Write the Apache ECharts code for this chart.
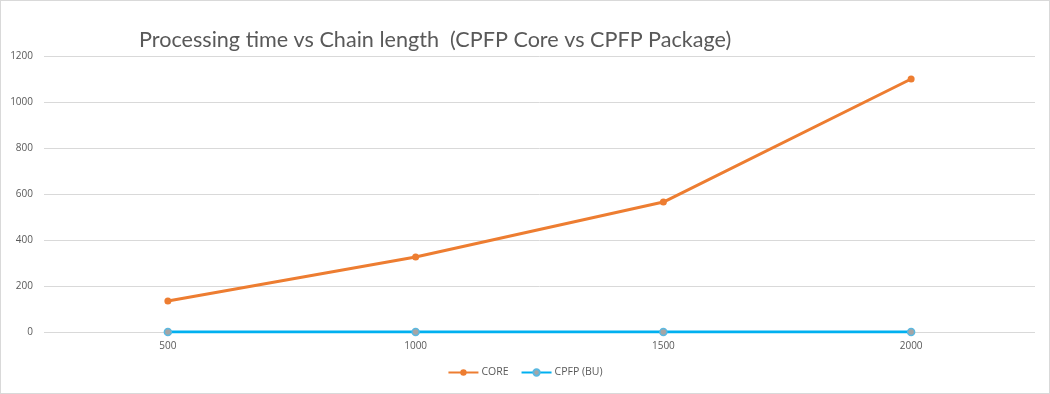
<!DOCTYPE html>
<html>
<head>
<meta charset="utf-8">
<script src="https://cdn.jsdelivr.net/npm/echarts@6/dist/echarts.min.js"></script>
<style>
html,body{margin:0;padding:0;background:#fff;}
#c{width:1048px;height:392px;border:1px solid #d9d9d9;}
</style>
</head>
<body>
<div id="c"></div>
<script>
const categories = ['500', '1000', '1500', '2000'];
const coreValues = [135, 326, 565, 1100];
const bupValues = [0, 0, 0, 0];
const yTicks = [0, 200, 400, 600, 800, 1000, 1200];
const titleText = 'Processing time vs Chain length  (CPFP Core vs CPFP Package)';

const chart = echarts.init(document.getElementById('c'));
chart.setOption({
  animation: false,
  title: {
    text: titleText,
    left: 133, top: 23,
    textStyle: {fontFamily: 'Lato', fontSize: 21.6, fontWeight: 'normal', color: '#595959'}
  },
  legend: {
    bottom: 10, left: 'center',
    itemWidth: 30, itemHeight: 8, itemGap: 12,
    textStyle: {fontFamily: 'Open Sans', fontSize: 10.5, color: '#595959', padding: [0, 0, 0, -2]},
    data: ['CORE', 'CPFP (BU)']
  },
  grid: {left: 43, right: 14, top: 55, bottom: 61, containLabel: false},
  xAxis: {
    type: 'category',
    data: categories,
    boundaryGap: true,
    axisLine: {show: false},
    axisTick: {show: false},
    axisLabel: {fontFamily: 'Open Sans', fontSize: 10, color: '#595959', margin: 9}
  },
  yAxis: {
    type: 'value',
    min: yTicks[0], max: yTicks[yTicks.length - 1], interval: 200,
    axisLine: {show: false},
    axisTick: {show: false},
    axisLabel: {fontFamily: 'Open Sans', fontSize: 10, color: '#595959', margin: 11,
      formatter: v => String(v)},
    splitLine: {lineStyle: {color: '#d9d9d9', width: 1}}
  },
  series: [
    {
      name: 'CORE', type: 'line', data: coreValues,
      symbol: 'circle', symbolSize: 7,
      lineStyle: {color: '#ED7D31', width: 3},
      itemStyle: {color: '#ED7D31'}
    },
    {
      name: 'CPFP (BU)', type: 'line', data: bupValues,
      symbol: 'circle', symbolSize: 7,
      lineStyle: {color: '#00B0F0', width: 3},
      itemStyle: {color: '#A5A5A5', borderColor: '#5BB8E0', borderWidth: 1.5}
    }
  ]
});
</script>
</body>
</html>
